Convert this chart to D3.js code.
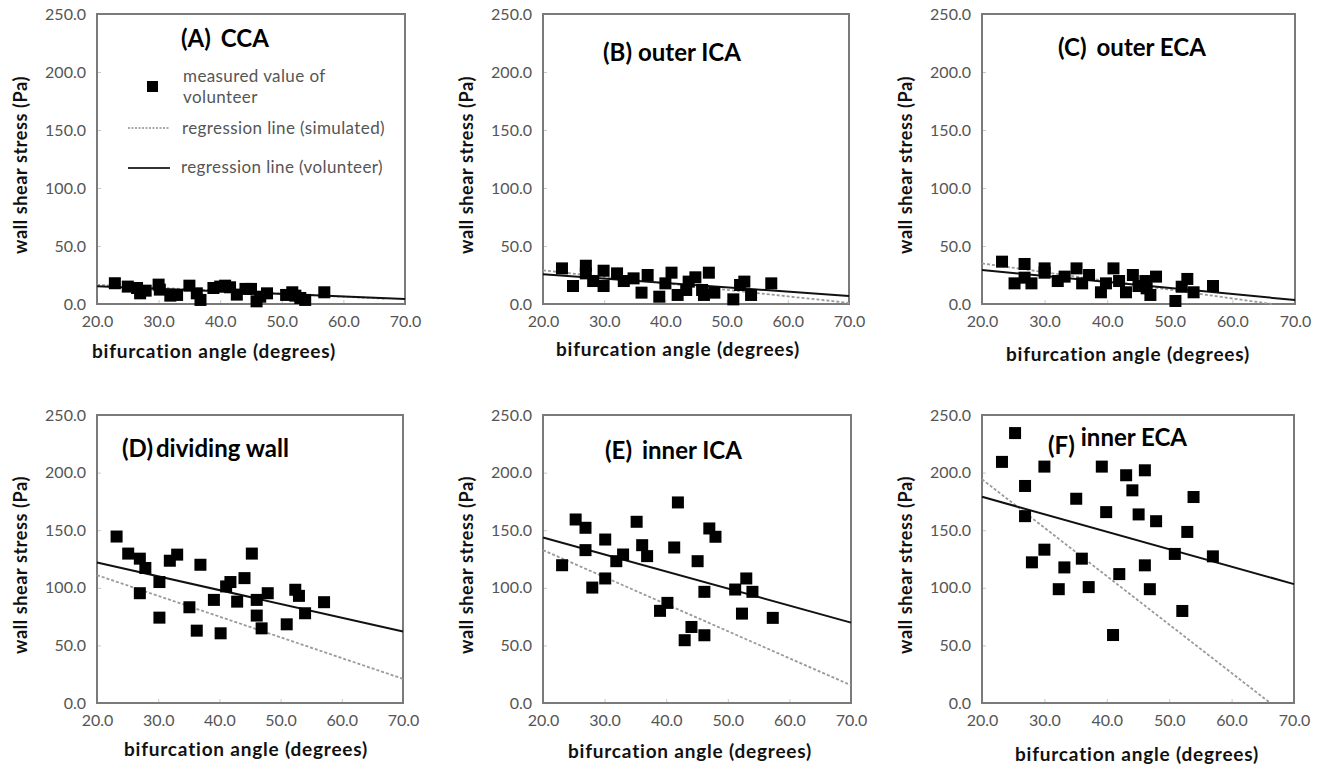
<!DOCTYPE html>
<html>
<head>
<meta charset="utf-8">
<script src="https://cdn.jsdelivr.net/npm/d3@7"></script>
<style>
  body { margin: 0; background: #fff; }
  svg text { font-family: Lato, "Open Sans", sans-serif; }
</style>
</head>
<body>
<svg id="fig" width="1320" height="772"></svg>
<script>
// Wall shear stress vs bifurcation angle, six sites (A-F).
// Values: [bifurcation angle (deg), WSS (Pa)].
const ccaPts = [[22.9,17.9],[25.0,15.0],[26.5,13.8],[27.0,9.2],[27.9,11.5],[30.0,16.7],[30.2,12.4],[31.9,7.2],[33.0,7.8],[35.0,15.8],[36.2,9.2],[36.8,3.5],[38.9,13.8],[40.0,15.0],[40.8,15.8],[41.6,14.4],[42.7,8.1],[44.1,13.0],[45.0,13.0],[45.9,2.3],[46.5,6.3],[47.6,9.2],[50.7,7.8],[51.7,10.1],[52.2,7.2],[53.0,5.2],[53.8,3.5],[56.9,10.1]];
const outerIcaPts = [[23.1,30.7],[24.9,15.5],[27.0,33.0],[27.0,26.4],[28.2,19.8],[29.9,28.7],[29.9,15.5],[32.1,26.4],[33.2,19.8],[34.8,22.1],[36.1,9.8],[37.1,25.0],[39.0,6.3],[40.0,17.8],[41.0,27.0],[42.0,7.8],[43.4,12.1],[43.8,19.3],[44.9,23.0],[46.0,12.1],[46.3,7.8],[47.1,27.0],[48.0,9.8],[51.1,4.0],[52.2,16.4],[52.9,19.3],[54.0,7.8],[57.3,17.8]];
const outerEcaPts = [[23.2,36.5],[25.2,17.8],[26.8,34.5],[26.8,22.7],[27.9,17.8],[30.0,30.7],[30.0,27.0],[32.1,19.8],[33.2,23.6],[35.1,30.7],[36.0,17.8],[37.1,25.0],[39.0,10.1],[39.8,17.8],[41.0,30.7],[41.9,19.8],[43.0,10.1],[44.1,25.0],[45.0,15.5],[46.1,19.8],[46.3,13.5],[46.9,7.8],[47.8,23.6],[50.9,2.6],[51.9,14.9],[52.8,21.6],[53.8,10.1],[56.9,15.5]];
const dividingPts = [[23.2,144.5],[25.1,129.7],[27.0,125.3],[27.9,117.2],[27.0,95.3],[30.2,105.0],[30.2,74.1],[31.9,123.5],[33.1,128.8],[35.1,83.1],[36.3,62.8],[36.9,120.0],[39.1,89.5],[40.2,60.5],[41.1,101.2],[41.8,105.0],[42.9,88.0],[44.1,108.4],[45.3,129.7],[46.1,89.5],[46.1,75.9],[46.9,64.8],[47.9,95.3],[51.0,68.3],[52.4,98.3],[53.0,93.0],[54.0,77.9],[57.1,87.5]];
const innerIcaPts = [[23.1,119.6],[25.3,159.3],[26.9,152.1],[26.9,132.7],[28.0,100.2],[30.1,141.9],[30.1,108.1],[31.9,123.1],[33.0,128.9],[35.2,157.3],[36.1,137.0],[36.9,127.5],[39.0,80.0],[40.2,86.9],[41.3,135.0],[41.9,174.1],[43.0,54.5],[44.1,66.0],[45.1,123.1],[46.2,96.5],[46.2,58.8],[47.0,151.5],[48.0,144.3],[51.2,98.5],[52.3,77.6],[53.0,108.1],[54.0,96.5],[57.3,73.9]];
const innerEcaPts = [[23.2,209.3],[25.3,234.3],[26.9,188.4],[26.9,162.2],[28.0,122.1],[30.0,205.2],[30.0,133.1],[32.3,98.8],[33.2,117.7],[35.1,177.3],[36.0,125.3],[37.1,100.6],[39.2,205.2],[39.9,165.7],[41.0,59.0],[42.0,111.9],[43.1,197.7],[44.1,184.6],[45.1,163.7],[46.1,202.0],[46.1,119.5],[46.9,98.8],[47.9,157.8],[50.9,129.4],[52.1,79.9],[52.9,148.5],[53.9,178.8],[57.0,127.3]];

// Regression lines, endpoints: [[angle, WSS], [angle, WSS]]
const volunteerLines = [
  [[20,15.3],[70,4.3]], [[20,25.6],[70,6.9]], [[20,29.3],[70,3.4]],
  [[20,122],[70,62]],   [[20,143.7],[70,69.8]], [[20,179],[70,103.2]]
];
const simulatedLines = [
  [[20,16.5],[67,4.5]], [[20,29],[70,1]],     [[20,35],[66.3,0]],
  [[20,111],[70,21]],   [[20,132.7],[70,15.4]], [[20,194.2],[66.2,0]]
];

const panelTags = ["(A)", "(B)", "(C)", "(D)", "(E)", "(F)"];
const panelNames = ["CCA", "outer ICA", "outer ECA", "dividing wall", "inner ICA", "inner ECA"];
const panelPts = [ccaPts, outerIcaPts, outerEcaPts, dividingPts, innerIcaPts, innerEcaPts];

const xTicks = [20, 30, 40, 50, 60, 70];
const yTicks = [0, 50, 100, 150, 200, 250];
const xTitle = "bifurcation angle (degrees)";
const yTitle = "wall shear stress (Pa)";
const legendLabels = [["measured value of", "volunteer"], ["regression line (simulated)"], ["regression line (volunteer)"]];

// layout (pixels)
const LAYOUT = [
  { l: 97,  t: 14,  w: 308, h: 290, tx: 181,  ty: 47,  nameDx: 10, tagDy: 0, xc: 214,  xlab: 358 },
  { l: 543, t: 14,  w: 306, h: 290, tx: 603,  ty: 61,  nameDx: 6,  tagDy: 0, xc: 678,  xlab: 356 },
  { l: 982, t: 14,  w: 313, h: 290, tx: 1058, ty: 56,  nameDx: 10, tagDy: 0, xc: 1128, xlab: 361 },
  { l: 97,  t: 415, w: 306, h: 288, tx: 122,  ty: 457, nameDx: 3,  tagDy: 0, xc: 246,  xlab: 756 },
  { l: 543, t: 415, w: 308, h: 288, tx: 605,  ty: 459, nameDx: 10, tagDy: 0, xc: 690,  xlab: 758 },
  { l: 982, t: 415, w: 312, h: 288, tx: 1048, ty: 446, nameDx: 6,  tagDy: 8, xc: 1137, xlab: 761 }
];

const svg = d3.select("#fig");
const fmt = d3.format(".1f");

panelPts.forEach((pts, i) => {
  const L = LAYOUT[i];
  const x = d3.scaleLinear().domain([20, 70]).range([L.l, L.l + L.w]);
  const y = d3.scaleLinear().domain([0, 250]).range([L.t + L.h, L.t]);
  const g = svg.append("g");

  // axes
  const gx = g.append("g").attr("transform", `translate(0,${L.t + L.h})`)
    .call(d3.axisBottom(x).tickValues(xTicks).tickFormat(fmt).tickSizeInner(-4).tickSizeOuter(0).tickPadding(12));
  const gy = g.append("g").attr("transform", `translate(${L.l},0)`)
    .call(d3.axisLeft(y).tickValues(yTicks).tickFormat(fmt).tickSizeInner(-4).tickSizeOuter(0).tickPadding(11));
  [gx, gy].forEach(a => {
    a.select(".domain").remove();
    a.selectAll(".tick line").attr("stroke", "#c8c8c8");
    a.selectAll(".tick text").attr("fill", "#555").style("font-size", "16px").style("font-family", "Lato, sans-serif");
  });

  // frame
  g.append("rect").attr("x", L.l).attr("y", L.t).attr("width", L.w).attr("height", L.h)
    .attr("fill", "none").attr("stroke", "#7a7a7a").attr("stroke-width", 2);

  // axis titles
  g.append("text").attr("x", L.xc).attr("y", L.xlab)
    .attr("text-anchor", "middle").attr("font-size", 19).attr("font-weight", 700)
    .attr("letter-spacing", 0.8).attr("fill", "#111")
    .text(xTitle);
  g.append("text").attr("transform", `translate(${L.l - 70},${L.t + L.h / 2 + 6}) rotate(-90)`)
    .attr("text-anchor", "middle").attr("font-size", 18).attr("font-weight", 700)
    .attr("letter-spacing", 0.6).attr("fill", "#111")
    .text(yTitle);

  // regression lines
  const line = d3.line().x(d => x(d[0])).y(d => y(d[1]));
  g.append("path").datum(simulatedLines[i]).attr("d", line)
    .attr("fill", "none").attr("stroke", "#9a9a9a").attr("stroke-width", 1.8).attr("stroke-dasharray", "3,2");
  g.append("path").datum(volunteerLines[i]).attr("d", line)
    .attr("fill", "none").attr("stroke", "#111").attr("stroke-width", 2);

  // points
  const S = 12;
  g.selectAll("rect.pt").data(pts).join("rect").attr("class", "pt")
    .attr("x", d => x(d[0]) - S / 2).attr("y", d => y(d[1]) - S / 2)
    .attr("width", S).attr("height", S).attr("fill", "#000");

  // panel title
  const t = g.append("text").attr("x", L.tx).attr("y", L.ty).attr("font-size", 24).attr("font-weight", 700).attr("fill", "#000");
  t.append("tspan").attr("dy", L.tagDy).text(panelTags[i]);
  t.append("tspan").attr("dx", L.nameDx).attr("dy", -L.tagDy).text(panelNames[i]);

  // legend (panel A only)
  if (i === 0) {
    const lg = g.append("g").attr("fill", "#555").attr("font-size", 17).attr("letter-spacing", 0.4);
    lg.append("rect").attr("x", 147).attr("y", 81).attr("width", 11).attr("height", 11).attr("fill", "#000");
    lg.append("text").attr("x", 183).attr("y", 82).text(legendLabels[0][0]);
    lg.append("text").attr("x", 183).attr("y", 103).text(legendLabels[0][1]);
    lg.append("line").attr("x1", 128).attr("x2", 170).attr("y1", 128).attr("y2", 128)
      .attr("stroke", "#aaa").attr("stroke-width", 1.8).attr("stroke-dasharray", "2,1.5");
    lg.append("text").attr("x", 182).attr("y", 134).text(legendLabels[1][0]);
    lg.append("line").attr("x1", 128).attr("x2", 170).attr("y1", 168).attr("y2", 168)
      .attr("stroke", "#333").attr("stroke-width", 1.8);
    lg.append("text").attr("x", 181).attr("y", 173).text(legendLabels[2][0]);
  }
});
</script>
</body>
</html>
